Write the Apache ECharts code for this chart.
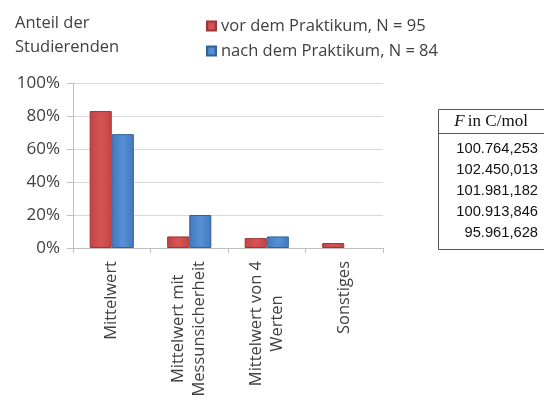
<!DOCTYPE html>
<html>
<head>
<meta charset="utf-8">
<script src="https://cdn.jsdelivr.net/npm/echarts@6/dist/echarts.min.js"></script>
<style>
  html, body { margin: 0; padding: 0; background: #ffffff; }
  #chart { width: 544px; height: 401px; }
</style>
</head>
<body>
<div id="chart"></div>
<script>
// Answer categories (multi-line labels split with \n)
const categories = ['Mittelwert', 'Mittelwert mit\nMessunsicherheit', 'Mittelwert von 4\nWerten', 'Sonstiges'];
// Share of students in percent
const vorValues = [83, 7, 6, 3];
const nachValues = [69, 20, 7, 0];
const seriesNames = ['vor dem Praktikum, N = 95', 'nach dem Praktikum, N = 84'];
const yTicks = [0, 20, 40, 60, 80, 100];
// Faraday constant results shown in the side table
const tableHeader = 'in C/mol';
const faradayValues = ['100.764,253', '102.450,013', '101.981,182', '100.913,846', '95.961,628'];

const FONT = '"Open Sans", sans-serif';
const TEXT = '#404040';

const chart = echarts.init(document.getElementById('chart'), null, { renderer: 'canvas' });

// Side table drawn as graphic elements
const tbl = { left: 438, top: 109, right: 546, headerBottom: 133, bottom: 249, rowStart: 149, rowStep: 21 };
const tableGraphics = [
  { type: 'rect', shape: { x: tbl.left + 0.5, y: tbl.top + 0.5, width: tbl.right - tbl.left - 1, height: tbl.bottom - tbl.top },
    style: { fill: '#fff', stroke: '#555', lineWidth: 1 } },
  { type: 'line', shape: { x1: tbl.left, y1: tbl.headerBottom + 0.5, x2: tbl.right, y2: tbl.headerBottom + 0.5 },
    style: { stroke: '#555', lineWidth: 1 } },
  { type: 'text', x: 491, y: 122,
    style: { text: '{f|F} {n|' + tableHeader + '}', align: 'center', verticalAlign: 'middle',
      rich: {
        f: { fontFamily: '"Liberation Serif", serif', fontStyle: 'italic', fontSize: 17, fill: '#111' },
        n: { fontFamily: '"Liberation Serif", serif', fontSize: 17, fill: '#111' }
      } } }
].concat(faradayValues.map((v, i) => ({
  type: 'text', x: 538, y: tbl.rowStart + i * tbl.rowStep,
  style: { text: v, align: 'right', verticalAlign: 'middle', fontFamily: '"Liberation Sans", Arial, sans-serif', fontSize: 14.7, fill: '#111' }
})));

// Slightly shaded bar faces: darker at the edges, brighter in the middle
function barStyle(edge, mid, dark) {
  return {
    color: new echarts.graphic.LinearGradient(0, 0, 1, 0, [
      { offset: 0, color: edge },
      { offset: 0.5, color: mid },
      { offset: 1, color: edge }
    ]),
    borderColor: dark,
    borderWidth: 1
  };
}

// Empty answers get no bar outline
const withEmpty = vals => vals.map(v => (v === 0 ? { value: v, itemStyle: { borderWidth: 0, opacity: 0 } } : v));

chart.setOption({
  animation: false,
  backgroundColor: '#ffffff',
  textStyle: { fontFamily: FONT },
  title: {
    text: 'Anteil der\nStudierenden',
    left: 10, top: 6,
    textStyle: { fontFamily: FONT, fontSize: 16.5, fontWeight: 'normal', color: TEXT, lineHeight: 24 }
  },
  legend: {
    orient: 'vertical',
    left: 201, top: 11,
    icon: 'rect',
    itemWidth: 9, itemHeight: 9, itemGap: 5,
    textStyle: { fontFamily: FONT, fontSize: 16.5, color: TEXT, lineHeight: 20 },
    data: seriesNames
  },
  grid: { left: 73, right: 161, top: 83, bottom: 153, containLabel: false, outerBoundsMode: 'none' },
  xAxis: {
    type: 'category',
    data: categories,
    axisLine: { show: true, lineStyle: { color: '#bfbfbf' } },
    axisTick: { show: true, length: 5, lineStyle: { color: '#bfbfbf' } },
    axisLabel: {
      interval: 0, rotate: 90, margin: 13,
      fontFamily: FONT, fontSize: 16.5, color: TEXT, lineHeight: 21,
      formatter: v => v.split('\n').map(l => '{c|' + l + '}').join('\n'),
      rich: { c: { align: 'center', fontFamily: FONT, fontSize: 16.5, color: TEXT, lineHeight: 21 } }
    }
  },
  yAxis: {
    type: 'value',
    min: yTicks[0], max: yTicks[yTicks.length - 1], interval: 20,
    axisLine: { show: true, lineStyle: { color: '#bfbfbf' } },
    axisTick: { show: true, length: 6, lineStyle: { color: '#bfbfbf' } },
    axisLabel: { formatter: '{value}%', fontFamily: FONT, fontSize: 17, color: TEXT, margin: 13 },
    splitLine: { show: true, lineStyle: { color: '#d9d9d9' } }
  },
  series: [
    {
      name: seriesNames[0], type: 'bar', data: withEmpty(vorValues),
      barGap: '0%', barCategoryGap: '43%',
      itemStyle: barStyle('#c24444', '#d85454', '#9a3636')
    },
    {
      name: seriesNames[1], type: 'bar', data: withEmpty(nachValues),
      barGap: '0%', barCategoryGap: '43%',
      itemStyle: barStyle('#4279be', '#5690d6', '#33619a')
    }
  ],
  graphic: tableGraphics
});
</script>
</body>
</html>
